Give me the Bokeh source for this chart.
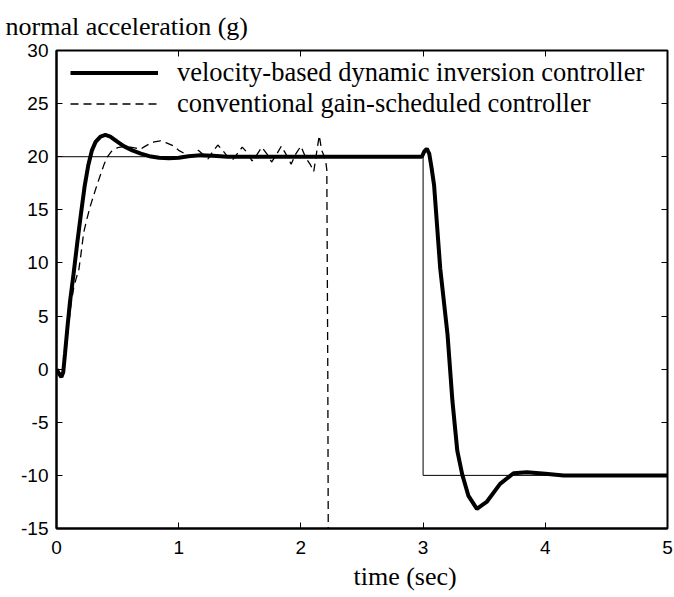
from bokeh.plotting import figure
from bokeh.models import Range1d, LinearAxis, FixedTicker, Legend, LegendItem, Title
from bokeh.embed import file_html
from bokeh.resources import INLINE

# reference command
ref_t = [0, 3, 3, 5]
ref_y = [20, 20, -10, -10]

# velocity-based dynamic inversion controller
di_t = [0.00, 0.02, 0.04, 0.055, 0.07, 0.09, 0.11, 0.14, 0.17, 0.20, 0.23, 0.26, 0.29, 0.32,
        0.36, 0.40, 0.44, 0.50, 0.55, 0.62, 0.69, 0.76, 0.84, 0.92, 1.00, 1.08, 1.18, 1.28,
        1.40, 2.99, 3.01, 3.03, 3.05, 3.07, 3.09, 3.14, 3.20, 3.24, 3.28, 3.32, 3.37, 3.44,
        3.52, 3.63, 3.74, 3.85, 4.00, 4.15, 5.00]
di_y = [0.0, -0.4, -0.75, -0.3, 1.5, 4.0, 6.3, 9.0, 11.9, 14.6, 17.2, 19.2, 20.6, 21.4,
        21.9, 22.05, 21.9, 21.4, 21.0, 20.6, 20.3, 20.05, 19.9, 19.85, 19.9, 20.05, 20.15, 20.1,
        20.0, 20.0, 20.5, 20.75, 20.3, 18.9, 17.3, 9.5, 3.25, -3.0, -7.7, -9.9, -11.9, -13.15,
        -12.5, -10.8, -9.8, -9.7, -9.85, -10.0, -10.0]

# conventional gain-scheduled controller
gs_t = [0.00, 0.02, 0.04, 0.06, 0.08, 0.10, 0.12, 0.14, 0.16, 0.183, 0.20, 0.223, 0.25, 0.278,
        0.305, 0.333, 0.36, 0.39, 0.415, 0.45, 0.50, 0.55, 0.605, 0.65, 0.687, 0.72, 0.76, 0.80,
        0.85, 0.90, 0.96, 1.00, 1.04, 1.08, 1.12, 1.16, 1.20, 1.24, 1.28, 1.32, 1.36, 1.40,
        1.44, 1.48, 1.52, 1.56, 1.60, 1.64, 1.68, 1.72, 1.76, 1.80, 1.84, 1.88, 1.92, 1.96,
        2.00, 2.04, 2.08, 2.105, 2.13, 2.15, 2.17, 2.20, 2.212, 2.22, 2.225]
gs_y = [0.0, -0.4, -0.7, 0.0, 2.0, 4.3, 6.2, 7.6, 8.5, 9.4, 10.8, 12.9, 14.2, 15.4,
        16.4, 17.4, 18.3, 19.3, 19.96, 20.5, 20.85, 20.95, 20.9, 20.8, 20.7, 20.95, 21.2, 21.4,
        21.5, 21.3, 21.0, 20.6, 20.35, 20.1, 20.0, 20.6, 20.2, 19.8, 20.5, 21.1, 20.6, 20.0,
        19.7, 20.3, 20.9, 20.4, 19.6, 20.2, 20.9, 20.3, 19.5, 20.2, 21.0, 20.2, 19.3, 20.3,
        21.0, 19.9, 19.2, 18.6, 20.5, 22.0, 20.6, 19.8, 18.8, 0.0, -20.0]

x_ticks = [0, 1, 2, 3, 4, 5]
y_ticks = [-15, -10, -5, 0, 5, 10, 15, 20, 25, 30]

SERIF = "Liberation Serif"
SANS = "Liberation Sans"

p = figure(width=674, height=597, output_backend="svg", toolbar_location=None,
           x_range=Range1d(0, 5), y_range=Range1d(-15, 30),
           min_border_left=56, min_border_right=7, min_border_top=48, min_border_bottom=69)
p.grid.visible = False
p.background_fill_color = "white"
p.outline_line_color = "black"
p.outline_line_width = 2
p.outline_line_alpha = 1

p.title.text = "normal acceleration (g)"
p.title.align = "left"
p.title.offset = -51
p.title.standoff = 19
p.title.text_font = SERIF
p.title.text_font_size = "26px"
p.title.text_font_style = "normal"
p.title.text_color = "black"

for ax in (p.xaxis[0], p.yaxis[0]):
    ax.axis_line_width = 2
    ax.axis_line_color = "black"
    ax.major_tick_in = 6
    ax.major_tick_out = 0
    ax.major_tick_line_width = 1
    ax.minor_tick_line_color = None
    ax.major_label_text_font = SANS
    ax.major_label_text_font_size = "19px"
    ax.major_label_text_color = "black"
p.xaxis[0].ticker = FixedTicker(ticks=x_ticks)
p.yaxis[0].ticker = FixedTicker(ticks=y_ticks)
p.xaxis[0].major_label_overrides = {t: str(t) for t in x_ticks}
p.yaxis[0].major_label_overrides = {t: str(t) for t in y_ticks}
p.xaxis[0].major_label_standoff = 12
p.yaxis[0].major_label_standoff = 8

top = LinearAxis(ticker=FixedTicker(ticks=x_ticks), major_label_text_font_size="1px",
                 major_label_text_color=None, major_label_standoff=0,
                 major_tick_in=6, major_tick_out=0, major_tick_line_width=1,
                 minor_tick_line_color=None, axis_line_color=None)
right = LinearAxis(ticker=FixedTicker(ticks=y_ticks), major_label_text_font_size="1px",
                   major_label_text_color=None, major_label_standoff=0,
                   major_tick_in=6, major_tick_out=0, major_tick_line_width=1,
                   minor_tick_line_color=None, axis_line_color=None)
p.add_layout(top, "above")
p.add_layout(right, "right")

xlab = Title(text="time (sec)", align="left", offset=297, text_font=SERIF,
             text_font_size="26px", text_font_style="normal", text_color="black", standoff=7)
p.add_layout(xlab, "below")

p.line(ref_t, ref_y, line_color="black", line_width=1)
r_gs = p.line(gs_t, gs_y, line_color="black", line_width=1.3, line_dash="8 5")
r_di = p.line(di_t, di_y, line_color="black", line_width=4)

legend = Legend(items=[LegendItem(label="velocity-based dynamic inversion controller", renderers=[r_di]),
                       LegendItem(label="conventional gain-scheduled controller", renderers=[r_gs])],
                location=(14, 409), glyph_width=88, glyph_height=31, label_height=31,
                label_standoff=19, spacing=0, padding=0, margin=0,
                border_line_color=None, background_fill_alpha=0,
                label_text_font=SERIF, label_text_font_size="26.5px", label_text_color="black")
p.add_layout(legend, "center")

open("out.html", "w").write(file_html(p, INLINE))
